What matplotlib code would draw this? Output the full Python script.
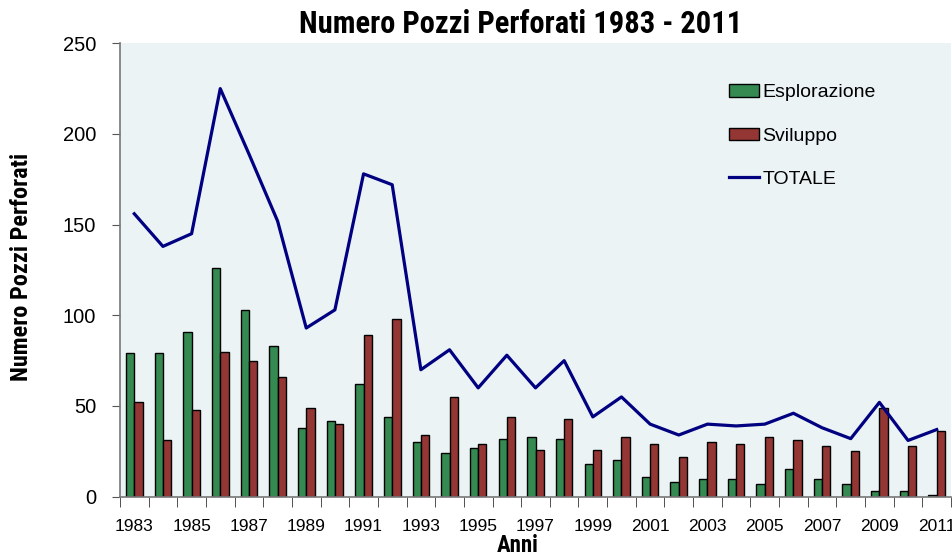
import matplotlib
matplotlib.use("Agg")
import matplotlib.pyplot as plt
import numpy as np
from matplotlib import font_manager

years = list(range(1983, 2012))
esplorazione = [79, 79, 91, 126, 103, 83, 38, 42, 62, 44,
                30, 24, 27, 32, 33, 32, 18, 20, 11, 8,
                10, 10, 7, 15, 10, 7, 3, 3, 1]
sviluppo = [52, 31, 48, 80, 75, 66, 49, 40, 89, 98,
            34, 55, 29, 44, 26, 43, 26, 33, 29, 22,
            30, 29, 33, 31, 28, 25, 49, 28, 36]
totale = [156, 138, 145, 225, 189, 152, 93, 103, 178, 172,
          70, 81, 60, 78, 60, 75, 44, 55, 40, 34,
          40, 39, 40, 46, 38, 32, 52, 31, 37]

available = {(f.name, f.weight) for f in font_manager.fontManager.ttflist}
narrow = 'DejaVu Sans'
for cand in ['Liberation Sans Narrow', 'Roboto Condensed', 'Arimo Narrow', 'PT Sans Narrow',
             'Archivo Narrow', 'Pragati Narrow', 'Fira Sans Condensed', 'IBM Plex Sans Condensed',
             'Open Sans Condensed', 'Encode Sans Condensed']:
    if any(n == cand and (w == 700 or w == 'bold') for n, w in available):
        narrow = cand
        break
plt.rcParams['font.family'] = ['Liberation Sans', 'DejaVu Sans']

fig = plt.figure(figsize=(9.52, 5.57), dpi=100)
ax = fig.add_axes([0.126, 0.1083, 0.873, 0.814])
ax.set_facecolor('#EBF3F5')

x = np.arange(len(years))
w = 0.29
b1 = ax.bar(x - w/2, esplorazione, w, color='#358A52', edgecolor='black', linewidth=1.0, label='Esplorazione', zorder=2)
b2 = ax.bar(x + w/2, sviluppo, w, color='#943634', edgecolor='black', linewidth=1.0, label='Sviluppo', zorder=2)
l1, = ax.plot(x, totale, color='#000080', linewidth=2.3, label='TOTALE', zorder=3)

ax.set_xlim(-0.5, len(years) - 0.5)
ax.set_ylim(0, 250)
ax.set_yticks(range(0, 251, 50))
ax.tick_params(axis='y', labelsize=14.5, length=6, color='#555555', direction='out', pad=11)
ax.set_xticks(x[::2])
ax.set_xticklabels([str(y) for y in years[::2]])
ax.tick_params(axis='x', which='major', labelsize=12.5, length=0, pad=16)
ax.set_xticks(np.arange(-0.5, len(years) + 0.5, 1), minor=True)
ax.tick_params(axis='x', which='minor', length=7, color='#333333', direction='out')

for s in ['top', 'right']:
    ax.spines[s].set_visible(False)
ax.spines['left'].set_color('#777777')
ax.spines['bottom'].set_color('#777777')
ax.spines['left'].set_linewidth(1.2)
ax.spines['bottom'].set_linewidth(1.2)

fig.text(521/952, 1 - 24/557, 'Numero Pozzi Perforati 1983 - 2011', ha='center', va='center',
         fontsize=22, fontweight='bold', family=[narrow, 'DejaVu Sans'])
fig.text(22/952, 1 - 267/557, 'Numero Pozzi Perforati', ha='center', va='center', rotation=90,
         fontsize=17.5, fontweight='bold', family=[narrow, 'DejaVu Sans'])
fig.text(518/952, 1 - 546/557, 'Anni', ha='center', va='center',
         fontsize=16.5, fontweight='bold', family=[narrow, 'DejaVu Sans'])

leg = ax.legend(handles=[b1, b2, l1], loc='upper left', bbox_to_anchor=(0.712, 0.948), frameon=False, fontsize=14,
                labelspacing=1.35, handlelength=1.55, handletextpad=0.15, handleheight=0.6)

fig.savefig('out.png', dpi=100)
